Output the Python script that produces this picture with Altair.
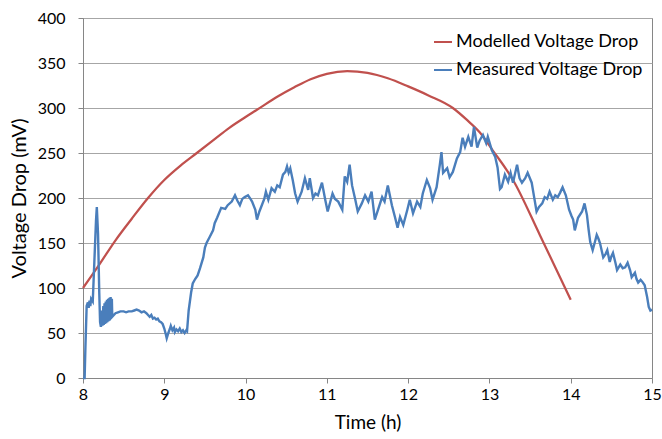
import altair as alt
import pandas as pd

# Modelled voltage drop (red)
model_t = [8.0, 8.2, 8.4, 8.6, 8.8, 9.0, 9.2, 9.4, 9.6, 9.8, 10.0, 10.14, 10.4, 10.6,
           10.8, 11.0, 11.25, 11.5, 11.75, 12.0, 12.25, 12.55, 12.72, 12.88, 13.04,
           13.29, 13.62, 14.0]
model_v = [100, 126, 153, 177, 200, 220, 236, 250, 264, 278, 290, 298, 313, 323,
           332, 338, 341, 339, 333, 324, 314, 300, 287, 273, 253,
           220, 159, 87]

# Measured voltage drop (blue)
meas_t = [8.00, 8.02, 8.03, 8.045, 8.06, 8.07, 8.08, 8.09, 8.10, 8.12, 8.14, 8.16, 8.17,
          8.185, 8.20, 8.21, 8.22, 8.23, 8.235, 8.24, 8.25, 8.255, 8.265, 8.27, 8.28,
          8.285, 8.295, 8.30, 8.31, 8.315, 8.325, 8.33, 8.34, 8.345, 8.355, 8.36, 8.38,
          8.40, 8.43, 8.46, 8.50, 8.53, 8.56, 8.60, 8.63, 8.66, 8.69, 8.72, 8.75, 8.78,
          8.80, 8.82, 8.84, 8.86, 8.88, 8.90, 8.92, 8.94, 8.96, 8.98, 9.00, 9.02, 9.03,
          9.05, 9.07, 9.08, 9.10, 9.12, 9.13, 9.15, 9.17, 9.19, 9.21, 9.23, 9.25, 9.27,
          9.28, 9.30, 9.33, 9.35, 9.38, 9.41, 9.44, 9.48, 9.50, 9.52, 9.56, 9.60, 9.62,
          9.65, 9.70, 9.75, 9.78, 9.83, 9.87, 9.90, 9.93, 9.96, 9.99, 10.03, 10.06,
          10.08, 10.12, 10.14, 10.17, 10.20, 10.23, 10.25, 10.28, 10.32, 10.36, 10.39,
          10.42, 10.46, 10.49, 10.51, 10.53, 10.55, 10.58, 10.61, 10.64, 10.69, 10.73,
          10.77, 10.79, 10.83, 10.86, 10.89, 10.94, 10.98, 11.01, 11.04, 11.07, 11.10,
          11.14, 11.19, 11.22, 11.25, 11.28, 11.31, 11.35, 11.38, 11.43, 11.47, 11.51,
          11.55, 11.59, 11.63, 11.68, 11.71, 11.75, 11.80, 11.84, 11.87, 11.90, 11.94,
          11.99, 12.02, 12.06, 12.11, 12.15, 12.18, 12.23, 12.27, 12.30, 12.35, 12.39,
          12.41, 12.43, 12.48, 12.51, 12.55, 12.60, 12.64, 12.67, 12.70, 12.74, 12.78,
          12.81, 12.85, 12.88, 12.92, 12.96, 12.98, 13.03, 13.07, 13.10, 13.13, 13.15,
          13.19, 13.23, 13.26, 13.29, 13.34, 13.37, 13.40, 13.44, 13.47, 13.52, 13.55,
          13.58, 13.61, 13.65, 13.68, 13.71, 13.74, 13.78, 13.81, 13.84, 13.87, 13.90,
          13.94, 13.98, 14.01, 14.03, 14.05, 14.09, 14.14, 14.17, 14.20, 14.22, 14.24,
          14.27, 14.30, 14.32, 14.34, 14.36, 14.40, 14.43, 14.45, 14.48, 14.50, 14.52,
          14.55, 14.57, 14.61, 14.64, 14.67, 14.70, 14.73, 14.75, 14.79, 14.81, 14.83,
          14.86, 14.88, 14.91, 14.94, 14.96, 14.98, 15.00]
meas_v = [0, 0, 35, 80, 84, 78, 86, 80, 88, 85, 130, 175, 190,
          160, 95, 62, 57, 60, 75, 58, 80, 59, 83, 60, 85,
          61, 87, 62, 88, 63, 89, 64, 90, 66, 88, 68, 70,
          72, 73, 74, 74, 73, 74, 74, 75, 76, 75, 73, 74, 72,
          70, 68, 70, 66, 67, 65, 66, 63, 62, 60, 55, 48, 44,
          50, 55, 58, 53, 56, 51, 54, 52, 55, 51, 53, 50, 53,
          52, 75, 95, 105, 110, 114, 122, 134, 145, 150, 157, 164, 172,
          178, 189, 188, 192, 196, 203, 197, 192, 199, 201, 203, 199,
          196, 187, 176, 185, 192, 199, 207, 198, 211, 207, 214,
          212, 226, 229, 235, 228, 233, 220, 205, 196, 207, 222,
          209, 222, 200, 205, 203, 217, 198, 185, 195, 205, 199,
          196, 187, 224, 218, 237, 214, 198, 185, 194, 203, 196,
          207, 176, 187, 201, 196, 214, 192, 178, 167, 179, 170,
          187, 198, 183, 196, 190, 205, 220, 211, 198, 212, 237,
          251, 228, 233, 223, 229, 244, 251, 267, 257, 268, 257,
          279, 256, 264, 270, 261, 268, 253, 246, 234, 210, 212,
          226, 218, 228, 217, 237, 222, 217, 222, 228, 217, 201,
          185, 190, 194, 201, 199, 207, 198, 203, 201, 206, 212,
          203, 187, 180, 176, 164, 178, 185, 194, 181, 165, 151,
          142, 152, 159, 155, 150, 134, 138, 142, 129, 135, 139,
          128, 120, 126, 122, 123, 128, 120, 112, 117, 110, 106,
          109, 107, 103, 90, 79, 75, 76]

series_names = ["Modelled Voltage Drop", "Measured Voltage Drop"]
series_colors = ["#C0504D", "#4A7EBB"]
x_ticks = [8, 9, 10, 11, 12, 13, 14, 15]
y_ticks = [0, 50, 100, 150, 200, 250, 300, 350, 400]

df_model = pd.DataFrame({"t": model_t, "v": model_v, "series": series_names[0],
                         "o": range(len(model_t))})
df_meas = pd.DataFrame({"t": meas_t, "v": meas_v, "series": series_names[1],
                        "o": range(len(meas_t))})

FONT = "Lato"

x_enc = alt.X("t:Q", title="Time (h)",
              scale=alt.Scale(domain=[8, 15], nice=False, zero=False),
              axis=alt.Axis(values=x_ticks, grid=False, tickSize=5, labelPadding=3,
                            labelFontSize=16, titleFontSize=19, titlePadding=11,
                            titleFontWeight="normal", labelFlush=False))
y_enc = alt.Y("v:Q", title="Voltage Drop (mV)",
              scale=alt.Scale(domain=[0, 400], nice=False),
              axis=alt.Axis(values=y_ticks, grid=True, tickSize=5, labelPadding=13,
                            labelFontSize=16, titleFontSize=20, titlePadding=8,
                            titleFontWeight="normal"))
color_enc = alt.Color("series:N",
                      scale=alt.Scale(domain=series_names, range=series_colors),
                      legend=alt.Legend(title=None, orient="none", legendX=350, legendY=14,
                                        symbolType="stroke", symbolSize=324,
                                        symbolStrokeWidth=2, labelFontSize=18,
                                        labelLimit=0, rowPadding=9, labelOffset=3))

model_line = alt.Chart(df_model).mark_line(strokeWidth=2.25, interpolate="monotone").encode(
    x=x_enc, y=y_enc, color=color_enc, order="o:Q")
meas_line = alt.Chart(df_meas).mark_line(strokeWidth=2.4).encode(
    x=x_enc, y=y_enc, color=color_enc, order="o:Q")

chart = alt.layer(model_line, meas_line).properties(
    width=569, height=360,
    autosize=alt.AutoSizeParams(type="none"),
    padding={"left": 83, "top": 18, "right": 10, "bottom": 61},
).configure(font=FONT).configure_axis(
    domainColor="#868686", tickColor="#868686", gridColor="#A6A6A6",
    labelColor="#000000", titleColor="#000000", labelFont=FONT, titleFont=FONT,
).configure_view(stroke="#868686").configure_legend(labelFont=FONT, labelColor="#000000")

chart.save("out.html", embed_options={"renderer": "svg", "actions": False})
